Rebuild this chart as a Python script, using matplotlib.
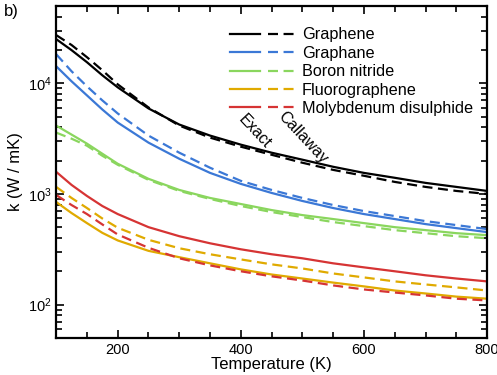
import matplotlib
matplotlib.use('Agg')
import numpy as np
import matplotlib.pyplot as plt
from matplotlib.legend_handler import HandlerTuple
from matplotlib.ticker import MultipleLocator, LogLocator, NullFormatter

plt.rcParams['font.family'] = ['Liberation Sans', 'DejaVu Sans']
plt.rcParams['mathtext.fontset'] = 'custom'
plt.rcParams['mathtext.rm'] = 'Liberation Sans'

# Temperature grid (K)
temps = [100, 125, 150, 175, 200, 250, 300, 350, 400, 450, 500, 550, 600, 650, 700, 750, 800]

# Thermal conductivity k (W / mK): exact solution and Callaway model
graphene_exact = [25100, 19950, 15520, 11820, 9200, 5930, 4240, 3370, 2790, 2360, 2040, 1760, 1550, 1400, 1259, 1158, 1065]
graphene_callaway = [27300, 22200, 17230, 13130, 9790, 6050, 4150, 3230, 2675, 2260, 1915, 1650, 1460, 1285, 1158, 1065, 1000]
graphane_exact = [14270, 10430, 7780, 5800, 4420, 2910, 2080, 1550, 1233, 1021, 864, 746, 658, 593, 534, 491, 452]
graphane_callaway = [18340, 12850, 9390, 7010, 5340, 3370, 2360, 1725, 1313, 1087, 920, 794, 700, 631, 568, 523, 481]
bn_exact = [4150, 3440, 2850, 2310, 1875, 1370, 1087, 920, 811, 715, 644, 593, 545, 501, 471, 442, 424]
bn_callaway = [3585, 3160, 2730, 2215, 1835, 1340, 1065, 901, 778, 686, 618, 557, 512, 471, 442, 415, 398]
fluoro_exact = [846, 672, 545, 445, 380, 306, 268, 236, 208, 187, 172, 158, 146, 134, 126, 118, 113]
fluoro_callaway = [1158, 920, 746, 600, 495, 385, 323, 285, 256, 231, 212, 191, 176, 162, 152, 143, 134]
mos2_exact = [1585, 1207, 959, 778, 658, 501, 415, 358, 316, 285, 262, 236, 217, 200, 184, 172, 162]
mos2_callaway = [979, 794, 658, 530, 430, 326, 262, 226, 200, 180, 165, 149, 137, 128.5, 121, 113, 109]

materials = ['Graphene', 'Graphane', 'Boron nitride', 'Fluorographene', 'Molybdenum disulphide']
exact = [graphene_exact, graphane_exact, bn_exact, fluoro_exact, mos2_exact]
callaway = [graphene_callaway, graphane_callaway, bn_callaway, fluoro_callaway, mos2_callaway]
colors = ['#000000', '#3b78d6', '#8ad65e', '#e0aa00', '#d63434']

fig = plt.figure(figsize=(4.97, 3.75), dpi=100)
ax = fig.add_axes([0.113, 0.099, 0.867, 0.885])

handles = []
for name, ex, cw, c in zip(materials, exact, callaway, colors):
    l1, = ax.plot(temps, ex, color=c, lw=1.6)
    l2, = ax.plot(temps, cw, color=c, lw=1.6, linestyle=(0, (4.5, 2.5)))
    handles.append((l1, l2))

ax.set_yscale('log')
ax.set_xlim(100, 800)
ax.set_ylim(50, 50000)

ax.xaxis.set_major_locator(MultipleLocator(200))
ax.xaxis.set_minor_locator(MultipleLocator(50))
ax.yaxis.set_major_locator(LogLocator(base=10, numticks=10))
ax.yaxis.set_minor_locator(LogLocator(base=10, subs=np.arange(2, 10), numticks=20))
ax.yaxis.set_minor_formatter(NullFormatter())
ax.tick_params(which='both', direction='in', top=True, right=True, width=1.2, labelsize=10.5)
ax.tick_params(which='major', length=6)
ax.tick_params(which='minor', length=4)
for s in ax.spines.values():
    s.set_linewidth(1.6)

ax.set_xlabel('Temperature (K)', fontsize=12, labelpad=0)
ax.set_ylabel('k (W / mK)', fontsize=12, labelpad=3)

leg = ax.legend(handles, materials, handler_map={tuple: HandlerTuple(ndivide=None, pad=0.5)},
                loc='upper right', bbox_to_anchor=(0.99, 0.965), frameon=False, fontsize=11.7,
                handlelength=4.1, handletextpad=0.3, labelspacing=0.21, borderaxespad=0.2)

ax.text(423, 3700, 'Exact', rotation=-47, fontsize=11.5, ha='center', va='center')
ax.text(500, 3250, 'Callaway', rotation=-47, fontsize=11.5, ha='center', va='center')

fig.text(0.008, 0.958, 'b)', fontsize=12)

plt.savefig('out.png', dpi=100)
